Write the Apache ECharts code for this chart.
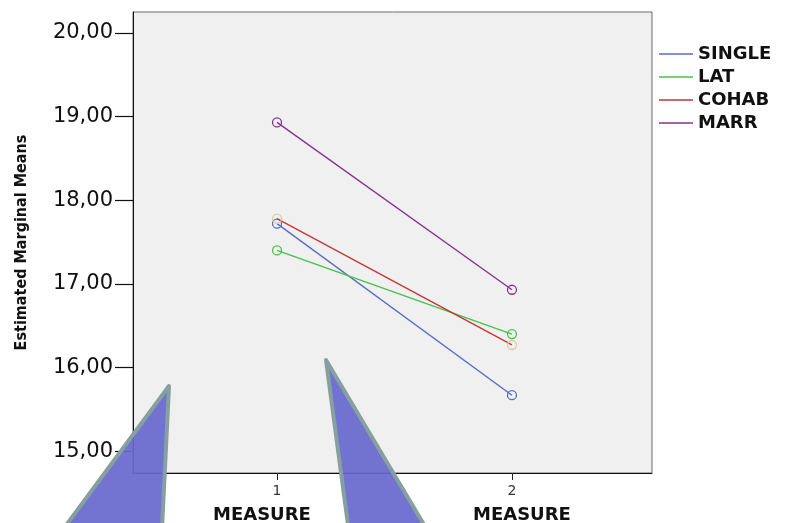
<!DOCTYPE html>
<html>
<head>
<meta charset="utf-8">
<script src="https://cdn.jsdelivr.net/npm/echarts@6/dist/echarts.min.js"></script>
<style>
  html, body { margin: 0; padding: 0; background: #fff; }
  #chart { width: 785px; height: 523px; }
</style>
</head>
<body>
<div id="chart"></div>
<script>
// Profile plot data: estimated marginal means per group at each measure
const measures = [1, 2];
const groupNames = ['SINGLE', 'LAT', 'COHAB', 'MARR'];
const singleMeans = [17.72, 15.67];
const latMeans = [17.40, 16.40];
const cohabMeans = [17.78, 16.27];
const marrMeans = [18.93, 16.93];
const yTickValues = [15, 16, 17, 18, 19, 20];
const xTickValues = [1, 2];
const xTitles = ['MEASURE', 'MEASURE'];

const lineColors = ['#5a6cc4', '#45c24c', '#c43838', '#86348e'];
const markerColors = ['#5a6cc4', '#45c24c', '#d9d09c', '#86348e'];
const seriesValues = [singleMeans, latMeans, cohabMeans, marrMeans];

const chart = echarts.init(document.getElementById('chart'));

const series = groupNames.map((name, i) => ({
  name: name,
  type: 'line',
  data: measures.map((m, j) => [m, seriesValues[i][j]]),
  symbol: 'circle',
  symbolSize: 9,
  lineStyle: { color: lineColors[i], width: 1.4 },
  itemStyle: { color: 'rgba(0,0,0,0)', borderColor: markerColors[i], borderWidth: 1.3 },
  emphasis: { disabled: true },
  z: 2 + i
}));

// Decorative pointer shapes over the lower part of the chart
function pointer(points) {
  return {
    type: 'polygon',
    z: 100,
    shape: { points: points },
    style: { fill: 'rgba(104,104,206,0.93)', stroke: '#86a0a0', lineWidth: 4, lineJoin: 'round' }
  };
}

chart.setOption({
  animation: false,
  backgroundColor: '#ffffff',
  grid: {
    left: 133, top: 12, right: 133, bottom: 50,
    outerBoundsMode: 'none',
    containLabel: false,
    show: true, backgroundColor: '#f0f0f0', borderColor: '#6a6a6a', borderWidth: 1
  },
  legend: {
    orient: 'vertical',
    left: 659, top: 45,
    padding: 0,
    icon: 'rect',
    itemWidth: 34, itemHeight: 1.5,
    itemGap: 5,
    data: groupNames.map((n, i) => ({
      name: n,
      itemStyle: { color: lineColors[i], borderColor: lineColors[i], borderWidth: 0 }
    })),
    textStyle: {
      fontFamily: 'DejaVu Sans, Arial, sans-serif',
      fontWeight: 'bold', fontSize: 18, color: '#111', lineHeight: 17, padding: [0, 0, 0, 0]
    }
  },
  xAxis: {
    type: 'value',
    min: 0.387, max: 2.596,
    axisLine: { show: true, lineStyle: { color: '#111', width: 1 } },
    axisTick: { show: true, customValues: xTickValues, length: 7, lineStyle: { color: '#222' } },
    axisLabel: {
      customValues: xTickValues, margin: 11,
      fontFamily: 'DejaVu Sans, Arial, sans-serif', fontSize: 14, color: '#333'
    },
    splitLine: { show: false }
  },
  yAxis: {
    type: 'value',
    min: 14.74, max: 20.25,
    name: 'Estimated Marginal Means',
    nameLocation: 'middle',
    nameGap: 103,
    nameRotate: 90,
    nameTextStyle: {
      fontFamily: "'Liberation Sans Narrow', 'DejaVu Sans Condensed', sans-serif",
      fontWeight: 'bold', fontSize: 16, color: '#111'
    },
    axisLine: { show: true, lineStyle: { color: '#111', width: 1 } },
    axisTick: { show: true, customValues: yTickValues, length: 18, lineStyle: { color: '#111', width: 1.2 } },
    axisLabel: {
      customValues: yTickValues, margin: 20,
      fontFamily: 'DejaVu Sans, Arial, sans-serif', fontSize: 21, color: '#111',
      formatter: v => v.toFixed(2).replace('.', ',')
    },
    splitLine: { show: false }
  },
  series: series,
  graphic: [
    {
      type: 'text', left: 213, top: 506, z: 50,
      style: { text: xTitles[0], font: 'bold 18px DejaVu Sans, Arial, sans-serif', fill: '#111' }
    },
    {
      type: 'text', left: 473, top: 506, z: 50,
      style: { text: xTitles[1], font: 'bold 18px DejaVu Sans, Arial, sans-serif', fill: '#111' }
    },
    pointer([[169, 386], [160, 570], [33, 570]]),
    pointer([[326, 360], [451, 570], [354, 570]])
  ]
});
</script>
</body>
</html>
